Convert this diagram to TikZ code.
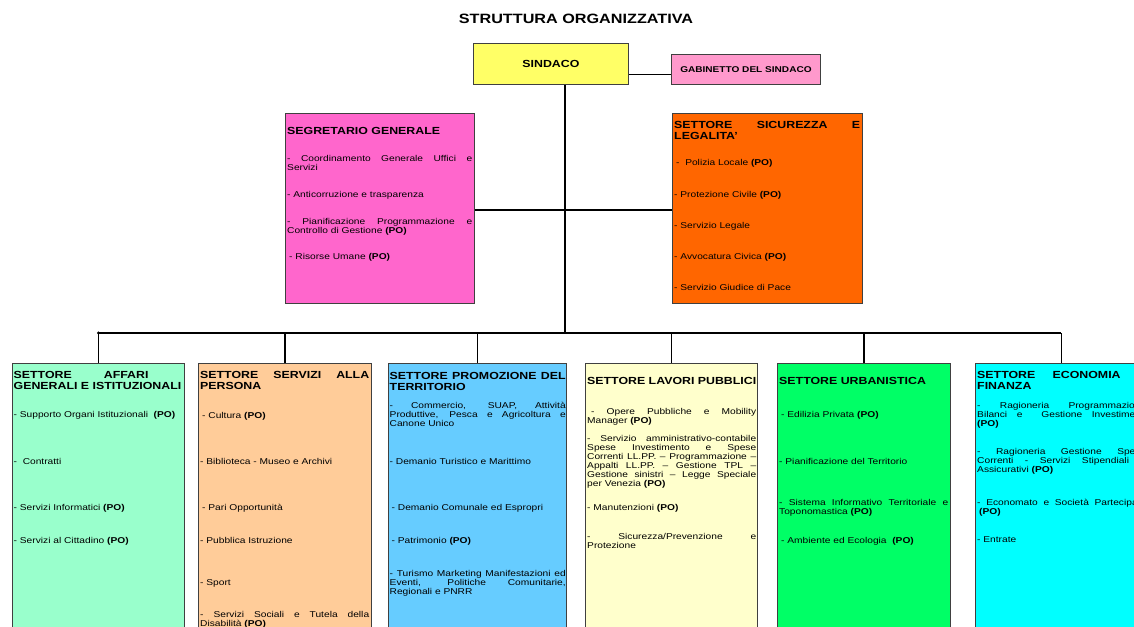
\documentclass[tikz,border=0pt]{standalone}
\usepackage{fontspec}
\setmainfont[FakeStretch=1.2]{Liberation Sans}
\usepackage{xcolor}
\usepackage{tikz}
\usetikzlibrary{positioning,calc}

\setlength\parindent{0pt}
\definecolor{giallo}{HTML}{FFFF66}
\definecolor{rosa}{HTML}{FF99CC}
\definecolor{fucsia}{HTML}{FF66CC}
\definecolor{arancio}{HTML}{FF6600}
\definecolor{menta}{HTML}{99FFCC}
\definecolor{pesca}{HTML}{FFCC99}
\definecolor{azzurro}{HTML}{66CCFF}
\definecolor{crema}{HTML}{FFFFCC}
\definecolor{verde}{HTML}{00FF66}
\definecolor{ciano}{HTML}{00FFFF}

\newcommand\fonttitolo{\fontsize{13.5pt}{15pt}\selectfont\bfseries}
\newcommand\fonttesta{\fontsize{10.3pt}{11pt}\selectfont\bfseries\hyphenpenalty=10000}
\newcommand\fontvoce{\fontsize{8.5pt}{9pt}\selectfont\hyphenpenalty=10000\exhyphenpenalty=10000}
\newcommand\po{\textbf{(PO)}}

\tikzset{
  ufficio/.style={draw=black!75, line width=0.9pt, anchor=north west, inner sep=0pt},
  testa/.style={font=\fonttesta, align=justify, anchor=north west, inner sep=0pt, yshift=3.7pt},
  voce/.style={font=\fontvoce, align=justify, anchor=north west, inner sep=0pt, yshift=3.1pt},
  link/.style={line width=1.2pt},
}

\begin{document}
\begin{tikzpicture}[x=1pt, y=-1pt]
\useasboundingbox (0,0) rectangle (1134,626);
\clip (0,0) rectangle (1134,626);
\fill[white] (0,0) rectangle (1134,626);

\node[font=\fonttitolo] (titolo) at (576,19) {STRUTTURA ORGANIZZATIVA};

\node[ufficio, fill=giallo, minimum width=155pt, minimum height=41pt, font=\fonttesta] (sindaco) at (473,43) {SINDACO};
\node[ufficio, fill=rosa, minimum width=149pt, minimum height=30pt, font=\fontsize{8.4pt}{10pt}\selectfont\bfseries] (gab) at (671,54) {GABINETTO DEL SINDACO};

\node[ufficio, fill=fucsia, minimum width=189pt, minimum height=190pt] (seg) at (285,113) {};
\node[ufficio, fill=arancio, minimum width=190pt, minimum height=190pt] (sic) at (672,113) {};

\node[ufficio, fill=menta, minimum width=172pt, minimum height=300pt] (aff) at (12,363) {};
\node[ufficio, fill=pesca, minimum width=173pt, minimum height=300pt] (per) at (198,363) {};
\node[ufficio, fill=azzurro, minimum width=178pt, minimum height=300pt] (pro) at (388,363) {};
\node[ufficio, fill=crema, minimum width=172pt, minimum height=300pt] (lav) at (585,363) {};
\node[ufficio, fill=verde, minimum width=173pt, minimum height=300pt] (urb) at (777,363) {};
\node[ufficio, fill=ciano, minimum width=172pt, minimum height=300pt] (eco) at (975,363) {};

\coordinate (gabin) at ([yshift=-5pt]gab.west);
\coordinate (asse) at (565,210);
\coordinate (nodo) at (565,333);
\draw[link] (gabin -| sindaco.east) -- (gabin);
\draw[link] (sindaco.south -| nodo) -- (nodo);
\draw[link] (seg.east |- asse) -- (sic.west |- asse);
\draw[link] (aff.north |- nodo) -- (eco.north |- nodo);
\fill (aff.north |- nodo) circle (1.6pt);
\draw[link] (aff.north |- nodo) -- (aff.north);
\draw[link] (per.north |- nodo) -- (per.north);
\draw[link] (pro.north |- nodo) -- (pro.north);
\draw[link] (lav.north |- nodo) -- (lav.north);
\draw[link] (urb.north |- nodo) -- (urb.north);
\draw[link] (eco.north |- nodo) -- (eco.north);

\node[testa, text width=185pt] (seg-t) at (287,131) {SEGRETARIO GENERALE};
\node[voce, text width=185pt] (seg-1) at (287,158) {- Coordinamento Generale Uffici e\linebreak Servizi};
\node[voce, text width=185pt] (seg-2) at (287,194) {- Anticorruzione e trasparenza};
\node[voce, text width=185pt] (seg-3) at (287,221) {- Pianificazione Programmazione e\linebreak Controllo di Gestione \po};
\node[voce, text width=185pt] (seg-4) at (287,256) {\hspace*{2pt}- Risorse Umane \po};

\node[testa, text width=186pt] (sic-t) at (674,125) {SETTORE SICUREZZA E\linebreak LEGALITA'};
\node[voce, text width=186pt] (sic-1) at (674,162) {\hspace*{2pt}-\ \ Polizia Locale \po};
\node[voce, text width=186pt] (sic-2) at (674,194) {- Protezione Civile \po};
\node[voce, text width=186pt] (sic-3) at (674,225) {- Servizio Legale};
\node[voce, text width=186pt] (sic-4) at (674,256) {- Avvocatura Civica \po};
\node[voce, text width=186pt] (sic-5) at (674,287) {- Servizio Giudice di Pace};

\node[testa, text width=169pt] (aff-t) at (13.5,375) {SETTORE\hspace{32pt}AFFARI\\GENERALI E ISTITUZIONALI};
\node[voce, text width=169pt] (aff-1) at (13.5,414) {- Supporto Organi Istituzionali\ \ \po};
\node[voce, text width=169pt] (aff-2) at (13.5,461) {-\ \ Contratti};
\node[voce, text width=169pt] (aff-3) at (13.5,507) {- Servizi Informatici \po};
\node[voce, text width=169pt] (aff-4) at (13.5,540) {- Servizi al Cittadino \po};

\node[testa, text width=169pt] (per-t) at (200,375) {SETTORE SERVIZI ALLA\linebreak PERSONA};
\node[voce, text width=169pt] (per-1) at (200,415) {\hspace*{2pt}- Cultura \po};
\node[voce, text width=169pt] (per-2) at (200,461) {- Biblioteca - Museo e Archivi};
\node[voce, text width=169pt] (per-3) at (200,507) {\hspace*{2pt}- Pari Opportunità};
\node[voce, text width=169pt] (per-4) at (200,540) {- Pubblica Istruzione};
\node[voce, text width=169pt] (per-5) at (200,582) {- Sport};
\node[voce, text width=169pt] (per-6) at (200,614) {- Servizi Sociali e Tutela della\linebreak Disabilità \po};

\node[testa, text width=176pt] (pro-t) at (389.5,376) {SETTORE PROMOZIONE DEL\linebreak TERRITORIO};
\node[voce, text width=176pt] (pro-1) at (389.5,405) {- Commercio, SUAP, Attività\linebreak Produttive, Pesca e Agricoltura e\linebreak Canone Unico};
\node[voce, text width=176pt] (pro-2) at (389.5,461) {- Demanio Turistico e Marittimo};
\node[voce, text width=176pt] (pro-3) at (389.5,507) {\hspace*{2pt}- Demanio Comunale ed Espropri};
\node[voce, text width=176pt] (pro-4) at (389.5,540) {\hspace*{2pt}- Patrimonio \po};
\node[voce, text width=176pt] (pro-5) at (389.5,573) {- Turismo Marketing Manifestazioni ed\linebreak Eventi, Politiche Comunitarie,\linebreak Regionali e PNRR};

\node[testa, text width=169pt] (lav-t) at (587,381) {SETTORE LAVORI PUBBLICI};
\node[voce, text width=169pt] (lav-1) at (587,411) {\hspace*{4pt}- Opere Pubbliche e Mobility\linebreak Manager \po};
\node[voce, text width=169pt] (lav-2) at (587,438) {- Servizio amministrativo-contabile\linebreak Spese Investimento e Spese\linebreak Correnti LL.PP. – Programmazione –\linebreak Appalti LL.PP. – Gestione TPL –\linebreak Gestione sinistri – Legge Speciale\linebreak per Venezia \po};
\node[voce, text width=169pt] (lav-3) at (587,507) {- Manutenzioni \po};
\node[voce, text width=169pt] (lav-4) at (587,536) {- Sicurezza/Prevenzione e\linebreak Protezione};

\node[testa, text width=169pt] (urb-t) at (779,381) {SETTORE URBANISTICA};
\node[voce, text width=169pt] (urb-1) at (779,414) {\hspace*{2pt}- Edilizia Privata \po};
\node[voce, text width=169pt] (urb-2) at (779,461) {- Pianificazione del Territorio};
\node[voce, text width=169pt] (urb-3) at (779,502) {- Sistema Informativo Territoriale e\linebreak Toponomastica \po};
\node[voce, text width=169pt] (urb-4) at (779,540) {\hspace*{2pt}- Ambiente ed Ecologia\ \ \po};

\node[testa, text width=169pt] (eco-t) at (977,375) {SETTORE ECONOMIA E\linebreak FINANZA};
\node[voce, text width=169pt] (eco-1) at (977,405) {- Ragioneria Programmazione\linebreak Bilanci e\ \ Gestione Investimenti\linebreak \po};
\node[voce, text width=169pt] (eco-2) at (977,451) {- Ragioneria Gestione Spese\linebreak Correnti - Servizi Stipendiali e\linebreak Assicurativi \po};
\node[voce, text width=169pt] (eco-3) at (977,502) {- Economato e Società Partecipate\linebreak\hspace*{2pt}\po};
\node[voce, text width=169pt] (eco-4) at (977,540) {- Entrate};
\end{tikzpicture}
\end{document}
